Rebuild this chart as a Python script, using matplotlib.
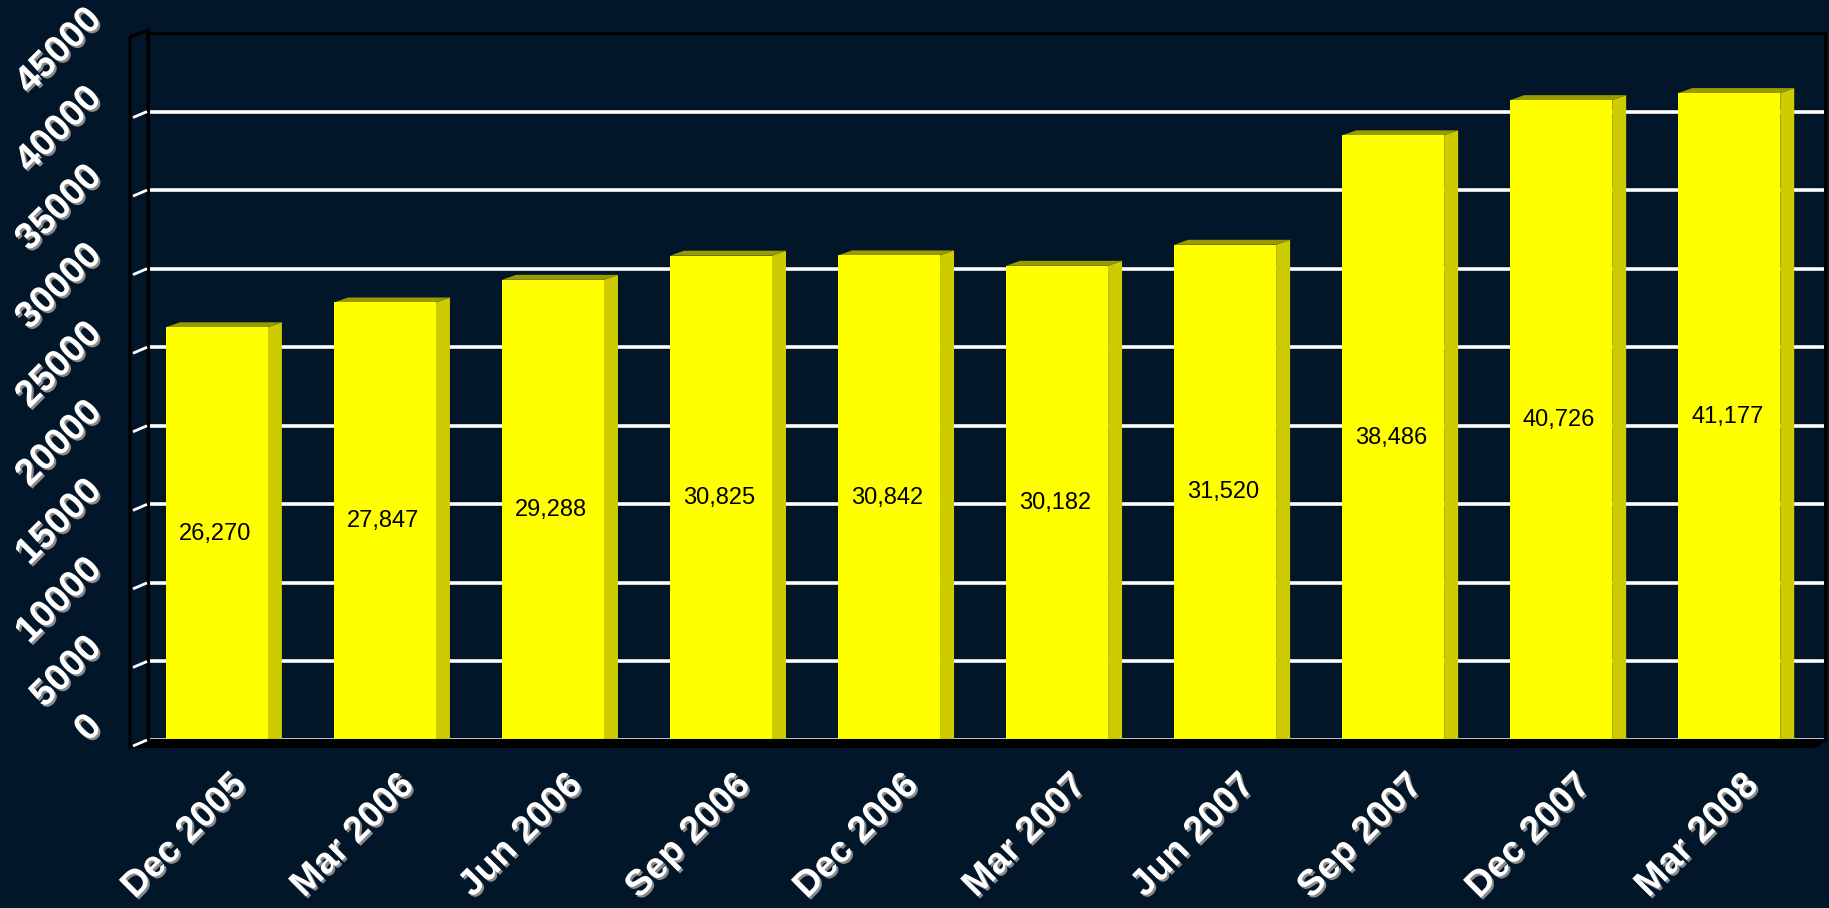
import matplotlib
matplotlib.use('Agg')
import matplotlib.pyplot as plt
import matplotlib.patheffects as pe
from matplotlib.patches import Polygon

categories = ['Dec 2005', 'Mar 2006', 'Jun 2006', 'Sep 2006', 'Dec 2006',
              'Mar 2007', 'Jun 2007', 'Sep 2007', 'Dec 2007', 'Mar 2008']
values = [26270, 27847, 29288, 30825, 30842, 30182, 31520, 38486, 40726, 41177]
y_ticks = [0, 5000, 10000, 15000, 20000, 25000, 30000, 35000, 40000, 45000]

W, H = 1829, 908
fig = plt.figure(figsize=(W / 100, H / 100), dpi=100)
bg = '#021629'
fig.patch.set_facecolor(bg)

L, R, T, B = 148, 1825, 33, 740
ax = fig.add_axes([L / W, (H - B) / H, (R - L) / W, (B - T) / H])
ax.set_facecolor(bg)

n = len(categories)
xmin, xmax = -0.41, 9.57
ymax = y_ticks[-1]
ax.set_xlim(xmin, xmax)
ax.set_ylim(0, ymax)
px_x = (xmax - xmin) / (R - L)
px_y = ymax / (B - T)

bar_w = 102 * px_x
dx, dy = 14 * px_x, 5 * px_y
xs = list(range(n))
ax.bar(xs, values, width=bar_w, color='#FFFF00', linewidth=0, zorder=3)
for i, v in zip(xs, values):
    x0, x1 = i - bar_w / 2, i + bar_w / 2
    ax.add_patch(Polygon([(x1, 0), (x1, v), (x1 + dx, v + dy), (x1 + dx, 0)],
                         closed=True, fc='#CCCC00', ec='none', zorder=2.9))
    ax.add_patch(Polygon([(x0, v), (x0 + dx, v + dy), (x1 + dx, v + dy), (x1, v)],
                         closed=True, fc='#999900', ec='none', zorder=2.9))
    ax.text(i - 2 * px_x, v / 2, f'{v:,}', ha='center', va='center', fontsize=17,
            color='black', family=['Liberation Sans Narrow', 'Liberation Sans'], zorder=4)

# gridlines
ax.set_yticks(y_ticks)
ax.set_xticks(xs)
ax.yaxis.grid(True, color='white', lw=2.6)
ax.set_axisbelow(True)
ax.tick_params(length=0, labelleft=False, labelbottom=False)
for s in ax.spines.values():
    s.set_color('black')
    s.set_linewidth(2.2)

# left wall and floor (3D frame)
wall = Polygon([(xmin, ymax + 3 * px_y), (xmin - 18 * px_x, ymax - 4 * px_y),
                (xmin - 18 * px_x, -7 * px_y), (xmin, 0)],
               closed=True, fc=bg, ec='black', lw=2.2, clip_on=False, zorder=2)
ax.add_patch(wall)
floor = Polygon([(xmin - 18 * px_x, -7 * px_y), (xmin, 0), (xmax, 0),
                 (xmax - 10 * px_x, -7 * px_y)],
                closed=True, fc='black', ec='black', lw=1.5, clip_on=False, zorder=3.5)
ax.add_patch(floor)

shadow = [pe.withSimplePatchShadow(offset=(1.5, -1.5), shadow_rgbFace='#8a8a8a', alpha=1)]

# slanted tick marks
for v in y_ticks[:-1]:
    ax.plot([xmin - 15 * px_x, xmin - 1 * px_x], [v - 6 * px_y, v], color='white',
            lw=2, clip_on=False, zorder=4, solid_capstyle='butt')

# y labels
for v in y_ticks:
    ax.text(xmin - 52 * px_x, v + 19 * px_y, f'{v}', rotation=45, ha='right', va='center',
            rotation_mode='anchor', fontsize=27, fontweight='bold', color='white',
            family='Liberation Sans', path_effects=shadow, clip_on=False)

# x labels
for i, c in zip(xs, categories):
    ax.text(i + 24 * px_x, -40 * px_y, c, rotation=45, ha='right', va='center',
            rotation_mode='anchor', fontsize=26.5, fontweight='bold', color='white',
            family='Liberation Sans', path_effects=shadow, clip_on=False)

fig.savefig('out.png', dpi=100, facecolor=bg)
